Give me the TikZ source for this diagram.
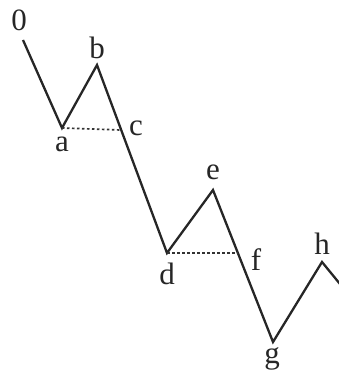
\documentclass[tikz,border=0pt]{standalone}
\usepackage{fontspec}
\setmainfont{Liberation Serif}
\begin{document}
\begin{tikzpicture}[x=1pt,y=-1pt,
  wave/.style={line width=2.3pt,line join=miter,black!85},
  level/.style={line width=1.7pt,dash pattern=on 2.5pt off 2.5pt,black!80},
  lbl/.style={font=\fontsize{31}{31}\selectfont,inner sep=0pt,text=black!85}]
\useasboundingbox (0,0) rectangle (339,374);
\coordinate (o) at (23,40);
\coordinate (a) at (62,128);
\coordinate (b) at (97,65);
\coordinate (c) at (121,130);
\coordinate (d) at (167,253);
\coordinate (e) at (213,190);
\coordinate (f) at (238,253);
\coordinate (g) at (273,342);
\coordinate (h) at (322,262);
\coordinate (z) at (340,284);
\draw[wave] (o) -- (a) -- (b) -- (d) -- (e) -- (g) -- (h) -- (z);
\draw[level] (a) -- (c);
\draw[level] (d) -- (f);
\node[lbl] (l0) at (19,20) {0};
\node[lbl] (la) at (62,144) {a};
\node[lbl] (lb) at (97,48) {b};
\node[lbl] (lc) at (136,128) {c};
\node[lbl] (ld) at (167,274) {d};
\node[lbl] (le) at (213,172) {e};
\node[lbl] (lf) at (256,260) {f};
\node[lbl] (lg) at (272,359) {g};
\node[lbl] (lh) at (322,244) {h};
\end{tikzpicture}
\end{document}
